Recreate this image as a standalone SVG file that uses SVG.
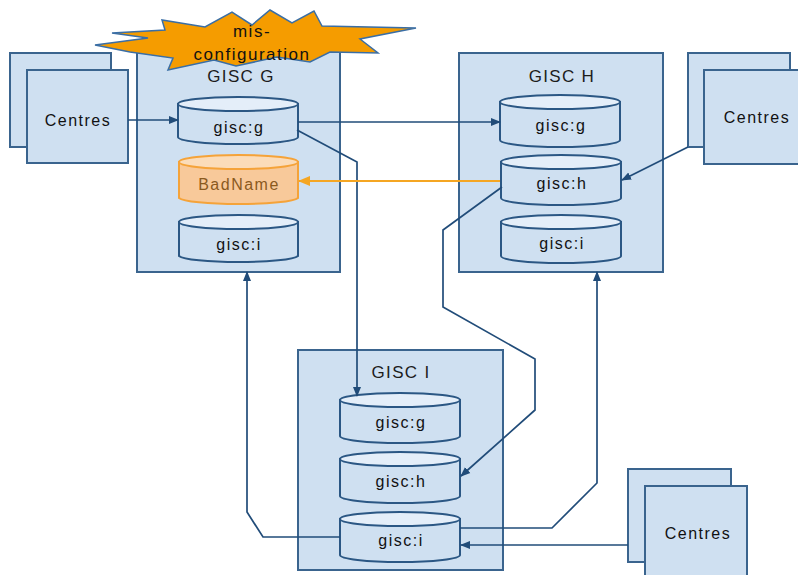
<svg xmlns="http://www.w3.org/2000/svg" width="798" height="575" viewBox="0 0 798 575">
  <style>
    .box { fill: #cfe0f1; stroke: #3a648e; stroke-width: 2; }
    .cyl { fill: #cfe0f1; stroke: #2b5784; stroke-width: 2; }
    .cyltop { fill: #e4eef9; stroke: #2b5784; stroke-width: 2; }
    .bad { fill: #f8c99a; stroke: #f5a339; stroke-width: 2; }
    .badtop { fill: #fbdcb9; stroke: #f5a339; stroke-width: 2; }
    .lbl { font-family: "Liberation Sans", Arial, sans-serif; font-size: 16px; letter-spacing: 1.5px; fill: #111; text-anchor: middle; }
    .title { font-family: "Liberation Sans", Arial, sans-serif; font-size: 17px; letter-spacing: 1.3px; fill: #1c1c1c; text-anchor: middle; }
    .conn { fill: none; stroke: #214c79; stroke-width: 1.7; }
    .warn { fill: none; stroke: #f5a623; stroke-width: 2; }
  </style>
  <defs>
    <marker id="arr" markerWidth="10" markerHeight="10" refX="9" refY="5" orient="auto" markerUnits="userSpaceOnUse">
      <path d="M0,1 L10,5 L0,9 Z" fill="#214c79"/>
    </marker>
    <marker id="arrOrange" markerWidth="12" markerHeight="12" refX="11" refY="6" orient="auto" markerUnits="userSpaceOnUse">
      <path d="M0,1 L12,6 L0,11 Z" fill="#f5a623"/>
    </marker>
  </defs>

  <!-- Centres stacks -->
  <g id="centres-left">
    <rect class="box" x="10" y="53" width="101" height="94"/>
    <rect class="box" x="27" y="70" width="101" height="93"/>
    <text class="lbl" x="78" y="126">Centres</text>
  </g>
  <g id="centres-right">
    <rect class="box" x="688" y="53" width="102" height="94"/>
    <rect class="box" x="704" y="70" width="102" height="94"/>
    <text class="lbl" x="757" y="123">Centres</text>
  </g>
  <g id="centres-bottom">
    <rect class="box" x="628" y="469" width="103" height="93"/>
    <rect class="box" x="645" y="486" width="102" height="100"/>
    <text class="lbl" x="698" y="539">Centres</text>
  </g>

  <!-- GISC G -->
  <g id="gisc-g">
    <rect class="box" x="137" y="52" width="203" height="220"/>
    <text class="title" x="241" y="82">GISC G</text>
    <g id="g-gisc-g">
      <path class="cyl" d="M178,104 V137 A60,7 0 0 0 298,137 V104 Z"/>
      <ellipse class="cyltop" cx="238" cy="104" rx="60" ry="7"/>
      <text class="lbl" x="239" y="133">gisc:g</text>
    </g>
    <g id="g-badname">
      <path class="bad" d="M179,162 V198 A60,7 0 0 0 298,198 V162 Z"/>
      <ellipse class="badtop" cx="238.5" cy="162" rx="59.5" ry="7"/>
      <text class="lbl" x="239" y="190" style="fill:#8a5a1e">BadName</text>
    </g>
    <g id="g-gisc-i">
      <path class="cyl" d="M179,222 V256 A60,7 0 0 0 298,256 V222 Z"/>
      <ellipse class="cyltop" cx="238.5" cy="222" rx="59.5" ry="7"/>
      <text class="lbl" x="239" y="250">gisc:i</text>
    </g>
  </g>

  <!-- GISC H -->
  <g id="gisc-h">
    <rect class="box" x="459" y="53" width="204" height="219"/>
    <text class="title" x="562" y="82">GISC H</text>
    <g id="h-gisc-g">
      <path class="cyl" d="M500,102 V140 A60,7 0 0 0 620,140 V102 Z"/>
      <ellipse class="cyltop" cx="560" cy="102" rx="60" ry="7"/>
      <text class="lbl" x="561" y="131">gisc:g</text>
    </g>
    <g id="h-gisc-h">
      <path class="cyl" d="M501,162 V198 A60,7 0 0 0 621,198 V162 Z"/>
      <ellipse class="cyltop" cx="561" cy="162" rx="60" ry="7"/>
      <text class="lbl" x="562" y="189">gisc:h</text>
    </g>
    <g id="h-gisc-i">
      <path class="cyl" d="M501,222 V256 A60,7 0 0 0 621,256 V222 Z"/>
      <ellipse class="cyltop" cx="561" cy="222" rx="60" ry="7"/>
      <text class="lbl" x="562" y="249">gisc:i</text>
    </g>
  </g>

  <!-- GISC I -->
  <g id="gisc-i">
    <rect class="box" x="298" y="350" width="205" height="220"/>
    <text class="title" x="401" y="378">GISC I</text>
    <g id="i-gisc-g">
      <path class="cyl" d="M340,400 V436 A60,7 0 0 0 460,436 V400 Z"/>
      <ellipse class="cyltop" cx="400" cy="400" rx="60" ry="7"/>
      <text class="lbl" x="401" y="428">gisc:g</text>
    </g>
    <g id="i-gisc-h">
      <path class="cyl" d="M340,459 V496 A60,7 0 0 0 460,496 V459 Z"/>
      <ellipse class="cyltop" cx="400" cy="459" rx="60" ry="7"/>
      <text class="lbl" x="401" y="487">gisc:h</text>
    </g>
    <g id="i-gisc-i">
      <path class="cyl" d="M340,519 V555 A60,7 0 0 0 460,555 V519 Z"/>
      <ellipse class="cyltop" cx="400" cy="519" rx="60" ry="7"/>
      <text class="lbl" x="401" y="546">gisc:i</text>
    </g>
  </g>

  <!-- Connectors -->
  <g id="connectors">
    <path class="conn" d="M128,120 H178" marker-end="url(#arr)"/>
    <path class="conn" d="M298,122 H500" marker-end="url(#arr)"/>
    <path class="conn" d="M297,130 L357,162 V396" marker-end="url(#arr)"/>
    <path class="warn" d="M500,181 H299" marker-end="url(#arrOrange)"/>
    <path class="conn" d="M502,187 L443,230 V307 L535,359 V410 L461,476" marker-end="url(#arr)"/>
    <path class="conn" d="M688,147 L622,180" marker-end="url(#arr)"/>
    <path class="conn" d="M340,537 H263 L247,512 V272" marker-end="url(#arr)"/>
    <path class="conn" d="M460,528 H552 L597,483 V272" marker-end="url(#arr)"/>
    <path class="conn" d="M628,545 H461" marker-end="url(#arr)"/>
  </g>

  <!-- Warning burst -->
  <g id="misconfiguration">
    <polygon points="95,45 148,38 112,33 165,30 162,20 205,27 232,12 252,25 270,10 292,23 314,11 322,26 416,28 360,39 378,53 330,52 310,62 277,57 236,66 214,60 168,70 173,58 130,52"
             fill="#f59c00" stroke="#3a6ea5" stroke-width="1.5" stroke-linejoin="miter"/>
    <text class="lbl" x="252" y="37" style="font-size:17px">mis-</text>
    <text class="lbl" x="252" y="60" style="font-size:17px">configuration</text>
  </g>
</svg>
